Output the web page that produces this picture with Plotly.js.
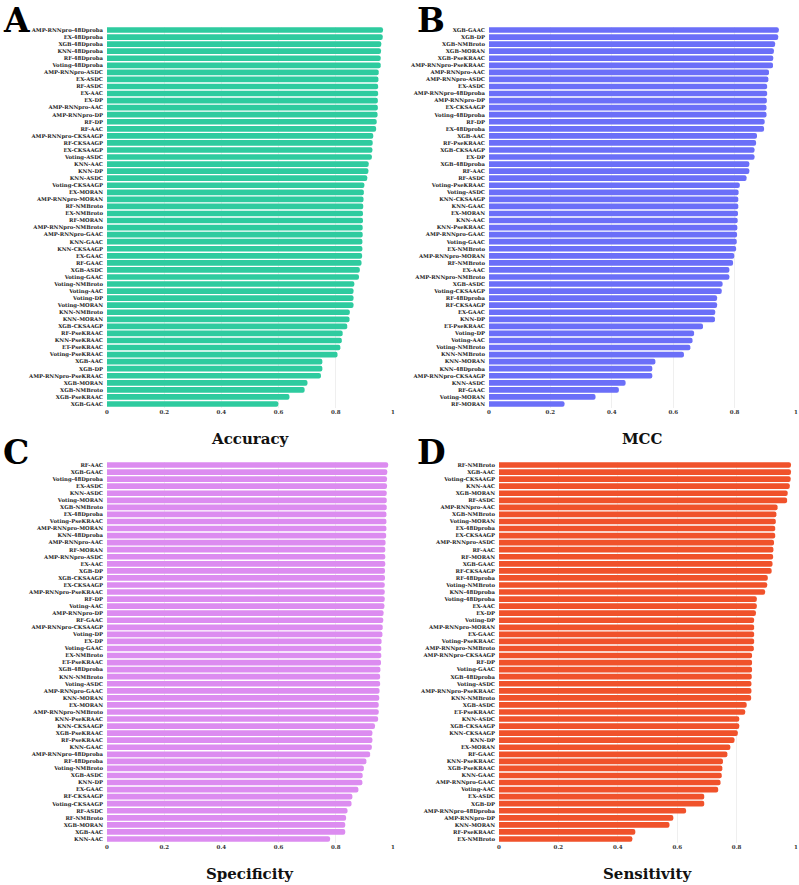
<!DOCTYPE html>
<html>
<head>
<meta charset="utf-8">
<script src="https://cdn.plot.ly/plotly-3.0.1.min.js"></script>
<style>html,body{margin:0;padding:0;background:#fff;}#chart{width:799px;height:885px;}</style>
</head>
<body>
<div id="chart"></div>
<script>
const accCats = ["AMP-RNNpro-48Dproba","EX-48Dproba","XGB-48Dproba","KNN-48Dproba","RF-48Dproba","Voting-48Dproba","AMP-RNNpro-ASDC","EX-ASDC","RF-ASDC","EX-AAC","EX-DP","AMP-RNNpro-AAC","AMP-RNNpro-DP","RF-DP","RF-AAC","AMP-RNNpro-CKSAAGP","RF-CKSAAGP","EX-CKSAAGP","Voting-ASDC","KNN-AAC","KNN-DP","KNN-ASDC","Voting-CKSAAGP","EX-MORAN","AMP-RNNpro-MORAN","RF-NMBroto","EX-NMBroto","RF-MORAN","AMP-RNNpro-NMBroto","AMP-RNNpro-GAAC","KNN-GAAC","KNN-CKSAAGP","EX-GAAC","RF-GAAC","XGB-ASDC","Voting-GAAC","Voting-NMBroto","Voting-AAC","Voting-DP","Voting-MORAN","KNN-NMBroto","KNN-MORAN","XGB-CKSAAGP","RF-PseKRAAC","KNN-PseKRAAC","ET-PseKRAAC","Voting-PseKRAAC","XGB-AAC","XGB-DP","AMP-RNNpro-PseKRAAC","XGB-MORAN","XGB-NMBroto","XGB-PseKRAAC","XGB-GAAC"];
const accVals = [0.965,0.964,0.959,0.958,0.957,0.957,0.950,0.949,0.948,0.948,0.947,0.947,0.946,0.943,0.941,0.931,0.929,0.928,0.926,0.915,0.914,0.910,0.900,0.898,0.897,0.896,0.895,0.895,0.894,0.894,0.893,0.893,0.892,0.890,0.884,0.881,0.865,0.862,0.862,0.862,0.849,0.848,0.840,0.824,0.821,0.816,0.806,0.753,0.753,0.748,0.701,0.691,0.638,0.599];

const mccCats = ["XGB-GAAC","XGB-DP","XGB-NMBroto","XGB-MORAN","XGB-PseKRAAC","AMP-RNNpro-PseKRAAC","AMP-RNNpro-AAC","AMP-RNNpro-ASDC","EX-ASDC","AMP-RNNpro-48Dproba","AMP-RNNpro-DP","EX-CKSAAGP","Voting-48Dproba","RF-DP","EX-48Dproba","XGB-AAC","RF-PseKRAAC","XGB-CKSAAGP","EX-DP","XGB-48Dproba","RF-AAC","RF-ASDC","Voting-PseKRAAC","Voting-ASDC","KNN-CKSAAGP","KNN-GAAC","EX-MORAN","KNN-AAC","KNN-PseKRAAC","AMP-RNNpro-GAAC","Voting-GAAC","EX-NMBroto","AMP-RNNpro-MORAN","RF-NMBroto","EX-AAC","AMP-RNNpro-NMBroto","XGB-ASDC","Voting-CKSAAGP","RF-48Dproba","RF-CKSAAGP","EX-GAAC","KNN-DP","ET-PseKRAAC","Voting-DP","Voting-AAC","Voting-NMBroto","KNN-NMBroto","KNN-MORAN","KNN-48Dproba","AMP-RNNpro-CKSAAGP","KNN-ASDC","RF-GAAC","Voting-MORAN","RF-MORAN"];
const mccVals = [0.944,0.942,0.932,0.928,0.926,0.925,0.912,0.910,0.906,0.906,0.905,0.904,0.904,0.898,0.896,0.873,0.870,0.865,0.865,0.848,0.848,0.839,0.817,0.813,0.812,0.812,0.811,0.810,0.809,0.808,0.807,0.805,0.799,0.795,0.783,0.783,0.761,0.758,0.743,0.743,0.737,0.736,0.697,0.668,0.663,0.656,0.635,0.542,0.532,0.532,0.445,0.423,0.347,0.246];

const speCats = ["RF-AAC","XGB-GAAC","Voting-48Dproba","EX-ASDC","KNN-ASDC","Voting-MORAN","XGB-NMBroto","EX-48Dproba","Voting-PseKRAAC","AMP-RNNpro-MORAN","KNN-48Dproba","AMP-RNNpro-AAC","RF-MORAN","AMP-RNNpro-ASDC","EX-AAC","XGB-DP","XGB-CKSAAGP","EX-CKSAAGP","AMP-RNNpro-PseKRAAC","RF-DP","Voting-AAC","AMP-RNNpro-DP","RF-GAAC","AMP-RNNpro-CKSAAGP","Voting-DP","EX-DP","Voting-GAAC","EX-NMBroto","ET-PseKRAAC","XGB-48Dproba","KNN-NMBroto","Voting-ASDC","AMP-RNNpro-GAAC","KNN-MORAN","EX-MORAN","AMP-RNNpro-NMBroto","KNN-PseKRAAC","KNN-CKSAAGP","XGB-PseKRAAC","RF-PseKRAAC","KNN-GAAC","AMP-RNNpro-48Dproba","RF-48Dproba","Voting-NMBroto","XGB-ASDC","KNN-DP","EX-GAAC","RF-CKSAAGP","Voting-CKSAAGP","RF-ASDC","RF-NMBroto","XGB-MORAN","XGB-AAC","KNN-AAC"];
const speVals = [0.983,0.980,0.979,0.979,0.978,0.978,0.978,0.977,0.977,0.977,0.976,0.974,0.973,0.973,0.973,0.972,0.972,0.971,0.971,0.971,0.970,0.967,0.966,0.964,0.963,0.960,0.959,0.959,0.958,0.956,0.955,0.955,0.953,0.952,0.950,0.950,0.948,0.937,0.928,0.928,0.926,0.920,0.907,0.898,0.894,0.893,0.879,0.858,0.855,0.841,0.836,0.833,0.833,0.780];

const senCats = ["RF-NMBroto","XGB-AAC","Voting-CKSAAGP","KNN-AAC","XGB-MORAN","RF-ASDC","AMP-RNNpro-AAC","XGB-NMBroto","Voting-MORAN","EX-48Dproba","EX-CKSAAGP","AMP-RNNpro-ASDC","RF-AAC","RF-MORAN","XGB-GAAC","RF-CKSAAGP","RF-48Dproba","Voting-NMBroto","KNN-48Dproba","Voting-48Dproba","EX-AAC","EX-DP","Voting-DP","AMP-RNNpro-MORAN","EX-GAAC","Voting-PseKRAAC","AMP-RNNpro-NMBroto","AMP-RNNpro-CKSAAGP","RF-DP","Voting-GAAC","XGB-48Dproba","Voting-ASDC","AMP-RNNpro-PseKRAAC","KNN-NMBroto","XGB-ASDC","ET-PseKRAAC","KNN-ASDC","XGB-CKSAAGP","KNN-CKSAAGP","KNN-DP","EX-MORAN","RF-GAAC","KNN-PseKRAAC","XGB-PseKRAAC","KNN-GAAC","AMP-RNNpro-GAAC","Voting-AAC","EX-ASDC","XGB-DP","AMP-RNNpro-48Dproba","AMP-RNNpro-DP","KNN-MORAN","RF-PseKRAAC","EX-NMBroto"];
const senVals = [0.983,0.983,0.982,0.979,0.972,0.970,0.938,0.934,0.932,0.930,0.930,0.926,0.924,0.923,0.921,0.918,0.905,0.903,0.896,0.868,0.868,0.865,0.859,0.859,0.859,0.859,0.858,0.852,0.852,0.852,0.851,0.850,0.850,0.849,0.834,0.829,0.809,0.809,0.804,0.793,0.779,0.769,0.754,0.752,0.750,0.746,0.738,0.691,0.691,0.630,0.587,0.574,0.459,0.449];

const panelTitles = ["Accuracy","MCC","Specificity","Sensitivity"];
const panelLetters = ["A","B","C","D"];
const xTickVals = [0,0.2,0.4,0.6,0.8,1];
const xTickText = ["0","0.2","0.4","0.6","0.8","1"];

const W = 799, H = 885;
const colors = ["#2ecb9f","#6b6ff8","#dc8cf0","#f0522b"];
const cats = [accCats, mccCats, speCats, senCats];
const vals = [accVals, mccVals, speVals, senVals];
// pixel geometry of each panel: [left, right, top, bottom]
const geo = [[107,393,26.5,407.5],[489,796,26.5,407.5],[107,393,461.5,842.5],[499,796,461.5,842.5]];
const letterPos = [[2,0],[416,0],[2,432],[416,432]];

const traces = [];
const layout = {
  width: W, height: H,
  margin: {l:0, r:0, t:0, b:0},
  paper_bgcolor: "#ffffff", plot_bgcolor: "#ffffff",
  showlegend: false,
  bargap: 0.2,
  annotations: []
};
const tickFont = {family: "DejaVu Serif", size: 5.3, weight: "bold", color: "#222"};

for (let i = 0; i < 4; i++) {
  const n = i === 0 ? "" : String(i + 1);
  traces.push({
    type: "bar", orientation: "h",
    x: vals[i], y: cats[i],
    xaxis: "x" + n, yaxis: "y" + n,
    marker: {color: colors[i], cornerradius: 3, line: {width: 0}},
    hoverinfo: "x+y"
  });
  const g = geo[i];
  layout["xaxis" + n] = {
    domain: [g[0] / W, g[1] / W],
    anchor: "y" + n,
    range: [0, 1],
    tickvals: xTickVals, ticktext: xTickText,
    tickfont: {family: "DejaVu Serif", size: 5.5, weight: "bold", color: "#333"},
    showgrid: true, gridcolor: "#efefef", gridwidth: 1,
    zeroline: false, showline: false, ticks: "", fixedrange: true
  };
  layout["yaxis" + n] = {
    domain: [1 - g[3] / H, 1 - g[2] / H],
    anchor: "x" + n,
    type: "category",
    autorange: "reversed",
    tickfont: tickFont,
    showgrid: false, zeroline: false, showline: false, ticks: "",
    ticklabelstandoff: 3,
    tickmode: "array", tickvals: cats[i], ticktext: cats[i],
    fixedrange: true
  };
  const cx = (g[0] + g[1]) / 2;
  layout.annotations.push({
    text: panelTitles[i], xref: "paper", yref: "paper",
    x: cx / W, y: 1 - (g[3] + 31) / H,
    xanchor: "center", yanchor: "middle", showarrow: false,
    font: {family: "DejaVu Serif", size: 15, weight: "bold", color: "#111"}
  });
  layout.annotations.push({
    text: panelLetters[i], xref: "paper", yref: "paper",
    x: letterPos[i][0] / W, y: 1 - letterPos[i][1] / H,
    xanchor: "left", yanchor: "top", showarrow: false, borderpad: 0,
    font: {family: "DejaVu Serif", size: 33, weight: "bold", color: "#000"}
  });
}

Plotly.newPlot("chart", traces, layout, {displayModeBar: false, staticPlot: true});
</script>
</body>
</html>
